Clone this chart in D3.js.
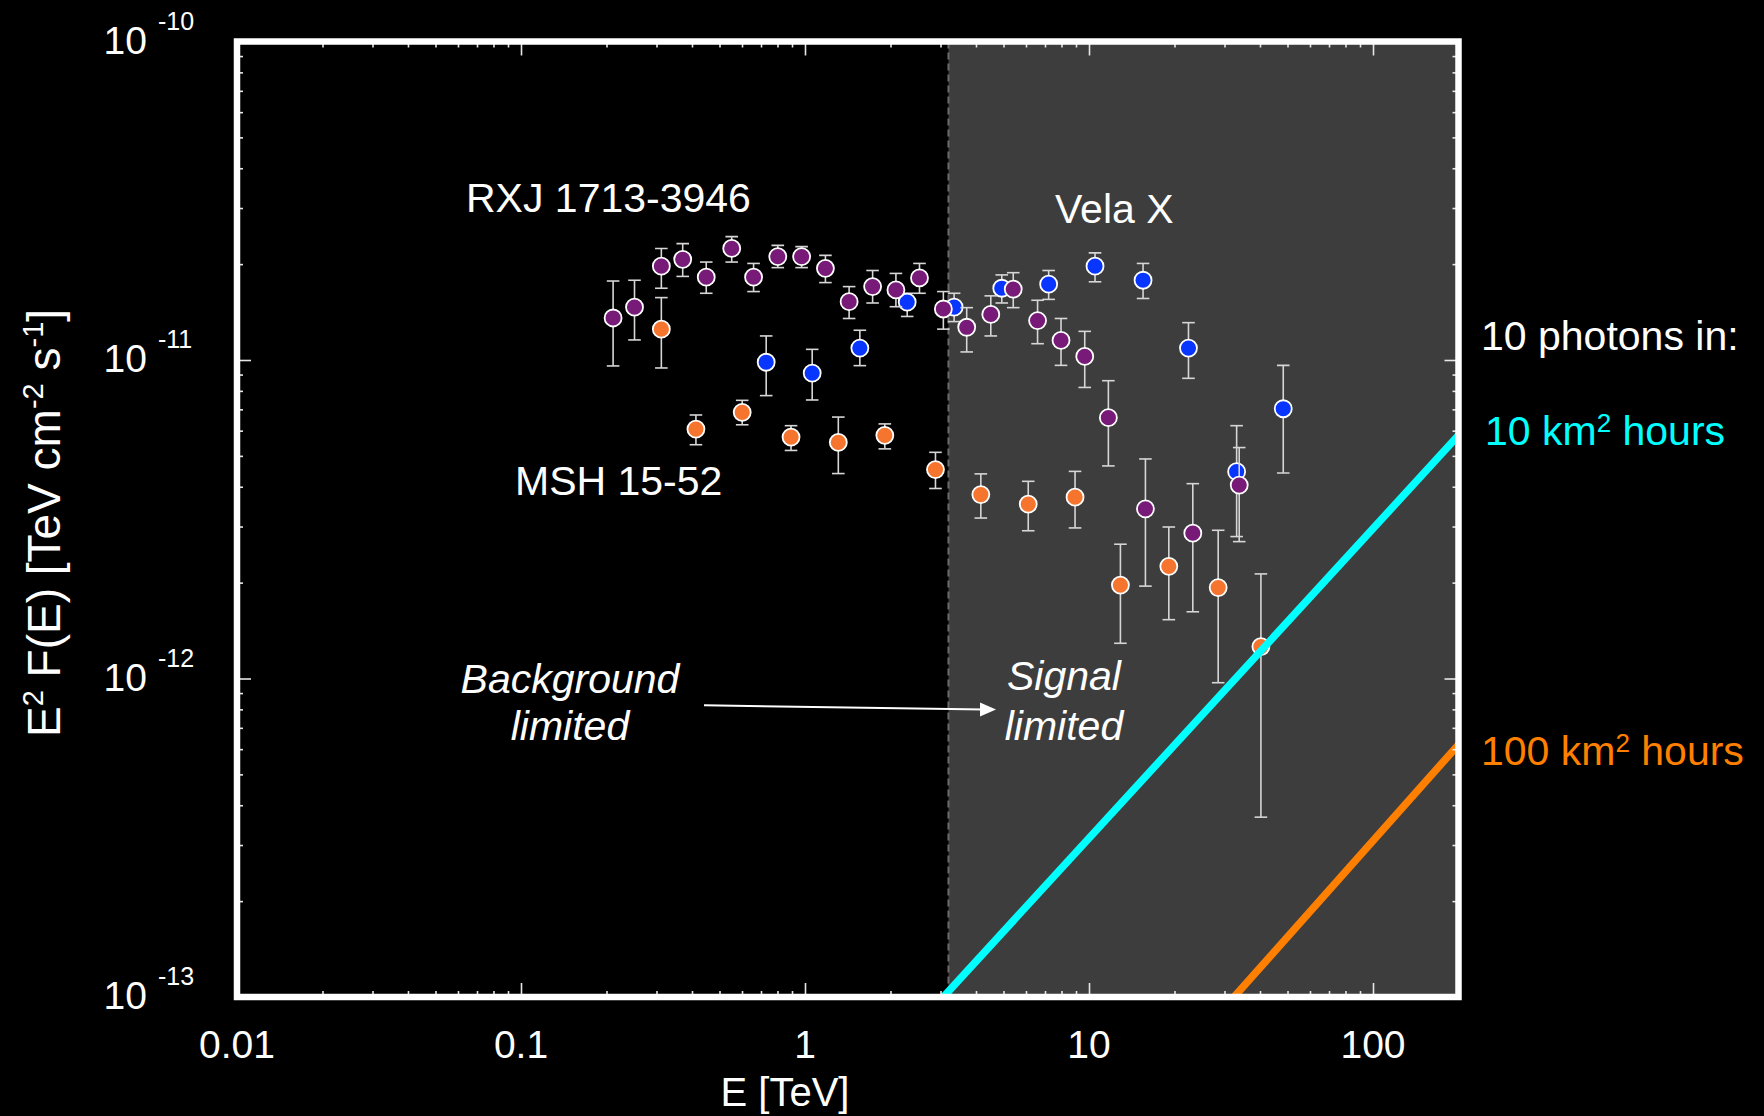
<!DOCTYPE html>
<html>
<head>
<meta charset="utf-8">
<script src="https://cdn.jsdelivr.net/npm/d3@7"></script>
<style>
  html, body { margin: 0; padding: 0; background: #000; }
  svg { display: block; }
  text { font-family: "Liberation Sans", Arial, Helvetica, sans-serif; fill: #fff; }
</style>
</head>
<body>
<svg id="chart" width="1764" height="1116"></svg>
<script>
// ---- Axis ranges and tick labels ----
const xDomain = [0.01, 200];             // E [TeV]
const yDomain = [1e-13, 1e-10];          // E^2 F(E) [TeV cm^-2 s^-1]
const xMajorTicks = [0.01, 0.1, 1, 10, 100];
const xTickLabels = ["0.01", "0.1", "1", "10", "100"];
const yMajorTicks = [1e-13, 1e-12, 1e-11, 1e-10];
const yTickExponents = ["-13", "-12", "-11", "-10"];

// Energy above which observations are signal limited
const signalLimitedFrom = 3.2;

// ---- RX J1713-3946 ----
const rxjEnergy = [0.211, 0.251, 0.312, 0.371, 0.449, 0.552, 0.659, 0.802, 0.973, 1.18, 1.43, 1.73, 2.09,
                   2.53, 3.07, 3.71, 4.51, 5.41, 6.59, 7.97, 9.66, 11.7, 15.8, 23.2, 33.8];
const rxjFlux   = [1.355e-11, 1.465e-11, 1.97e-11, 2.07e-11, 1.82e-11, 2.24e-11, 1.82e-11, 2.11e-11, 2.11e-11,
                   1.94e-11, 1.525e-11, 1.70e-11, 1.66e-11, 1.81e-11, 1.446e-11, 1.267e-11, 1.39e-11, 1.67e-11,
                   1.33e-11, 1.153e-11, 1.026e-11, 6.59e-12, 3.41e-12, 2.86e-12, 4.05e-12];
const rxjFluxHi = [1.77e-11, 1.78e-11, 2.24e-11, 2.32e-11, 2.03e-11, 2.44e-11, 2.01e-11, 2.29e-11, 2.27e-11,
                   2.13e-11, 1.70e-11, 1.91e-11, 1.87e-11, 2.01e-11, 1.64e-11, 1.46e-11, 1.59e-11, 1.88e-11,
                   1.54e-11, 1.35e-11, 1.23e-11, 8.61e-12, 4.89e-12, 4.09e-12, 5.31e-12];
const rxjFluxLo = [9.58e-12, 1.156e-11, 1.68e-11, 1.83e-11, 1.62e-11, 2.03e-11, 1.64e-11, 1.95e-11, 1.95e-11,
                   1.75e-11, 1.35e-11, 1.51e-11, 1.47e-11, 1.62e-11, 1.25e-11, 1.06e-11, 1.19e-11, 1.46e-11,
                   1.125e-11, 9.62e-12, 8.2e-12, 4.65e-12, 1.95e-12, 1.62e-12, 2.69e-12];

// ---- Vela X ----
const velaEnergy = [0.730, 1.06, 1.56, 2.29, 3.35, 4.93, 7.21, 10.5, 15.5, 22.4, 33.1, 48.3];
const velaFlux   = [9.84e-12, 9.1e-12, 1.09e-11, 1.52e-11, 1.465e-11, 1.68e-11, 1.73e-11, 1.97e-11, 1.78e-11,
                    1.09e-11, 4.46e-12, 7.03e-12];
const velaFluxHi = [1.19e-11, 1.08e-11, 1.24e-11, 1.62e-11, 1.62e-11, 1.85e-11, 1.91e-11, 2.17e-11, 2.01e-11,
                    1.31e-11, 6.22e-12, 9.62e-12];
const velaFluxLo = [7.73e-12, 7.49e-12, 9.6e-12, 1.37e-11, 1.32e-11, 1.51e-11, 1.55e-11, 1.76e-11, 1.56e-11,
                    8.76e-12, 2.79e-12, 4.42e-12];

// ---- MSH 15-52 ----
const mshEnergy = [0.312, 0.413, 0.601, 0.893, 1.31, 1.91, 2.88, 4.16, 6.11, 8.93, 12.9, 19.1, 28.5, 40.3];
const mshFlux   = [1.25e-11, 6.07e-12, 6.85e-12, 5.73e-12, 5.51e-12, 5.8e-12, 4.53e-12, 3.78e-12, 3.53e-12,
                   3.71e-12, 1.965e-12, 2.25e-12, 1.93e-12, 1.26e-12];
const mshFluxHi = [1.57e-11, 6.72e-12, 7.47e-12, 6.22e-12, 6.62e-12, 6.3e-12, 5.13e-12, 4.39e-12, 4.16e-12,
                   4.47e-12, 2.64e-12, 2.99e-12, 2.92e-12, 2.13e-12];
const mshFluxLo = [9.44e-12, 5.42e-12, 6.26e-12, 5.2e-12, 4.4e-12, 5.26e-12, 3.95e-12, 3.19e-12, 2.91e-12,
                   2.97e-12, 1.29e-12, 1.53e-12, 9.7e-13, 3.67e-13];

// ---- 10-photon sensitivity lines (end points) ----
const sens10Energy  = [3.07, 200];
const sens10Flux    = [1e-13, 5.8e-12];
const sens100Energy = [32.4, 200];
const sens100Flux   = [1e-13, 6.2e-13];

// ---------------------------------------------------------------
const svg = d3.select("#chart");
const plot = { left: 237, right: 1458.5, top: 41.5, bottom: 997 };

const x = d3.scaleLog().domain(xDomain).range([plot.left, plot.right]);
const y = d3.scaleLog().domain(yDomain).range([plot.bottom, plot.top]);

svg.append("rect").attr("width", 1764).attr("height", 1116).attr("fill", "#000");

svg.append("defs").append("clipPath").attr("id", "plotClip")
  .append("rect")
  .attr("x", plot.left).attr("y", plot.top)
  .attr("width", plot.right - plot.left).attr("height", plot.bottom - plot.top);

// Signal-limited region
svg.append("rect")
  .attr("x", x(signalLimitedFrom)).attr("y", plot.top)
  .attr("width", plot.right - x(signalLimitedFrom))
  .attr("height", plot.bottom - plot.top)
  .attr("fill", "#3d3d3d");
svg.append("line")
  .attr("x1", x(signalLimitedFrom)).attr("x2", x(signalLimitedFrom))
  .attr("y1", plot.top).attr("y2", plot.bottom)
  .attr("stroke", "#6a6a6a").attr("stroke-width", 2)
  .attr("stroke-dasharray", "7,4");

// ---- Data series ----
function buildSeries(E, F, hi, lo) {
  return E.map((e, i) => ({ e, f: F[i], hi: hi[i], lo: lo[i] }));
}
const series = [
  { name: "MSH 15-52",     color: "#f5752e", pts: buildSeries(mshEnergy, mshFlux, mshFluxHi, mshFluxLo) },
  { name: "Vela X",        color: "#0836ff", pts: buildSeries(velaEnergy, velaFlux, velaFluxHi, velaFluxLo) },
  { name: "RXJ 1713-3946", color: "#781a78", pts: buildSeries(rxjEnergy, rxjFlux, rxjFluxHi, rxjFluxLo) }
];

const dataG = svg.append("g").attr("clip-path", "url(#plotClip)");
const capHalf = 6.3;
series.forEach(s => {
  const g = dataG.append("g");
  const eb = g.selectAll("g.err").data(s.pts).enter().append("g")
    .attr("stroke", "#d6d6d6").attr("stroke-width", 1.6).attr("fill", "none");
  eb.append("line")
    .attr("x1", d => x(d.e)).attr("x2", d => x(d.e))
    .attr("y1", d => y(d.hi)).attr("y2", d => y(d.lo));
  eb.append("line")
    .attr("x1", d => x(d.e) - capHalf).attr("x2", d => x(d.e) + capHalf)
    .attr("y1", d => y(d.hi)).attr("y2", d => y(d.hi));
  eb.append("line")
    .attr("x1", d => x(d.e) - capHalf).attr("x2", d => x(d.e) + capHalf)
    .attr("y1", d => y(d.lo)).attr("y2", d => y(d.lo));
  g.selectAll("circle").data(s.pts).enter().append("circle")
    .attr("cx", d => x(d.e)).attr("cy", d => y(d.f))
    .attr("r", 8.5)
    .attr("fill", s.color)
    .attr("stroke", "#fff").attr("stroke-width", 1.8);
});

// ---- Sensitivity lines ----
const lineGen = d3.line().x(d => x(d[0])).y(d => y(d[1]));
dataG.append("path")
  .attr("d", lineGen(sens10Energy.map((e, i) => [e, sens10Flux[i]])))
  .attr("stroke", "#00ffff").attr("stroke-width", 7.5).attr("fill", "none");
dataG.append("path")
  .attr("d", lineGen(sens100Energy.map((e, i) => [e, sens100Flux[i]])))
  .attr("stroke", "#ff7f00").attr("stroke-width", 7.5).attr("fill", "none");

// ---- Ticks (inward, on all four sides) ----
const xMinor = x.ticks().filter(t => !xMajorTicks.some(m => Math.abs(m - t) / m < 1e-6));
const yMinor = y.ticks().filter(t => !yMajorTicks.some(m => Math.abs(m - t) / m < 1e-6));

function tickAxis(gen, tx, ty, vals, size) {
  const g = svg.append("g").attr("transform", `translate(${tx},${ty})`)
    .call(gen.tickValues(vals).tickSize(size).tickFormat(""));
  g.select(".domain").remove();
  g.selectAll(".tick line").attr("stroke", "#e6e6e6").attr("stroke-width", 1.6);
  return g;
}
tickAxis(d3.axisBottom(x), 0, plot.bottom, xMajorTicks, -14);
tickAxis(d3.axisBottom(x), 0, plot.bottom, xMinor, -6);
tickAxis(d3.axisTop(x), 0, plot.top, xMajorTicks, -14);
tickAxis(d3.axisTop(x), 0, plot.top, xMinor, -6);
tickAxis(d3.axisLeft(y), plot.left, 0, yMajorTicks, -14);
tickAxis(d3.axisLeft(y), plot.left, 0, yMinor, -6);
tickAxis(d3.axisRight(y), plot.right, 0, yMajorTicks, -14);
tickAxis(d3.axisRight(y), plot.right, 0, yMinor, -6);

// Frame
svg.append("rect")
  .attr("x", plot.left).attr("y", plot.top)
  .attr("width", plot.right - plot.left).attr("height", plot.bottom - plot.top)
  .attr("fill", "none").attr("stroke", "#fff").attr("stroke-width", 6.5);

// ---- Tick labels ----
svg.append("g").selectAll("text").data(xMajorTicks).enter().append("text")
  .attr("x", d => x(d)).attr("y", 1058)
  .attr("text-anchor", "middle").attr("font-size", 39)
  .text((d, i) => xTickLabels[i]);

const yLab = svg.append("g").selectAll("g").data(yMajorTicks).enter().append("g");
yLab.append("text")
  .attr("x", 147).attr("y", d => y(d) + 12)
  .attr("text-anchor", "end").attr("font-size", 39)
  .text("10");
yLab.append("text")
  .attr("x", 158).attr("y", d => y(d) - 12)
  .attr("font-size", 25)
  .text((d, i) => yTickExponents[i]);

// ---- Axis titles ----
svg.append("text")
  .attr("x", 785).attr("y", 1106)
  .attr("text-anchor", "middle").attr("font-size", 40)
  .text("E [TeV]");

const yTitle = svg.append("text")
  .attr("transform", "translate(60,523) rotate(-90)")
  .attr("text-anchor", "middle").attr("font-size", 46);
yTitle.append("tspan").text("E");
yTitle.append("tspan").attr("font-size", 29).attr("dy", -17).text("2");
yTitle.append("tspan").attr("dy", 17).text(" F(E) [TeV cm");
yTitle.append("tspan").attr("font-size", 29).attr("dy", -17).text("-2");
yTitle.append("tspan").attr("dy", 17).text(" s");
yTitle.append("tspan").attr("font-size", 29).attr("dy", -17).text("-1");
yTitle.append("tspan").attr("dy", 17).text("]");

// ---- Source labels ----
const labelSize = 41;
svg.append("text").attr("x", 466).attr("y", 212).attr("font-size", labelSize).text("RXJ 1713-3946");
svg.append("text").attr("x", 1055).attr("y", 223).attr("font-size", labelSize).text("Vela X");
svg.append("text").attr("x", 515).attr("y", 495).attr("font-size", labelSize).text("MSH 15-52");

// ---- Regime annotations ----
function italicPair(cx, l1, l2, y1, y2) {
  svg.append("text").attr("x", cx).attr("y", y1).attr("text-anchor", "middle")
    .attr("font-size", labelSize).attr("font-style", "italic").text(l1);
  svg.append("text").attr("x", cx).attr("y", y2).attr("text-anchor", "middle")
    .attr("font-size", labelSize).attr("font-style", "italic").text(l2);
}
italicPair(570, "Background", "limited", 693, 740);
italicPair(1064, "Signal", "limited", 690, 740);

// Arrow from background-limited to signal-limited
svg.append("line")
  .attr("x1", 704).attr("y1", 705.3).attr("x2", 984).attr("y2", 709.4)
  .attr("stroke", "#fff").attr("stroke-width", 2);
svg.append("path")
  .attr("d", "M996,709.6 L980,702.4 L980,716.6 Z")
  .attr("fill", "#fff");

// ---- Sensitivity legend ----
svg.append("text").attr("x", 1481).attr("y", 350).attr("font-size", labelSize).text("10 photons in:");
function kmLabel(xPos, yPos, num, color) {
  const t = svg.append("text").attr("x", xPos).attr("y", yPos)
    .attr("font-size", labelSize).style("fill", color);
  t.append("tspan").text(num + " km");
  t.append("tspan").attr("font-size", 26).attr("dy", -13).text("2");
  t.append("tspan").attr("dy", 13).text(" hours");
}
kmLabel(1485, 445, "10", "#00ffff");
kmLabel(1481, 765, "100", "#ff7f00");
</script>
</body>
</html>
